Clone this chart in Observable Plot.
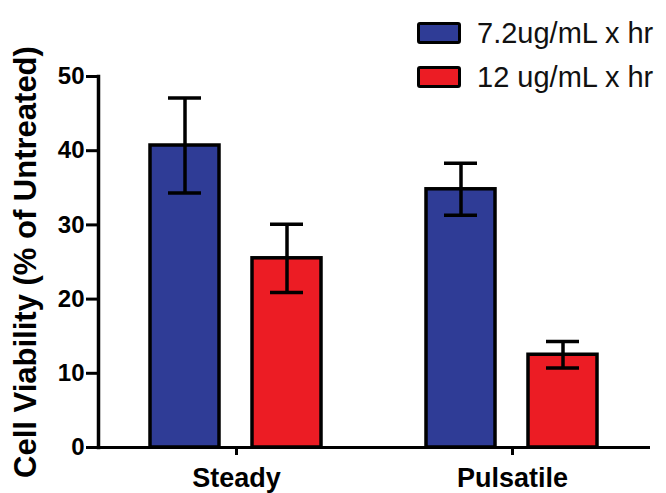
<!DOCTYPE html>
<html>
<head>
<meta charset="utf-8">
<script src="https://cdn.jsdelivr.net/npm/d3@7"></script>
<script src="https://cdn.jsdelivr.net/npm/@observablehq/plot@0.6"></script>
<style>
  html, body { margin: 0; padding: 0; background: #fff; }
  #wrap { position: relative; width: 666px; height: 493px; font-family: "Liberation Sans", Arial, sans-serif; }
  #legend { position: absolute; left: 417px; top: 11px; }
  .item { display: flex; align-items: center; height: 44px; }
  .sw { width: 38px; height: 16px; border: 3.5px solid #000; border-radius: 3px; margin-right: 16px; }
  .lab { font-size: 29px; color: #111; line-height: 1; }
</style>
</head>
<body>
<div id="wrap"><div id="legend"></div></div>
<script>
const categories = ["Steady", "Pulsatile"];
const doses = ["7.2ug/mL x hr", "12 ug/mL x hr"];
const means72 = [40.7, 34.8];
const errs72 = [6.4, 3.5];
const means12 = [25.5, 12.5];
const errs12 = [4.6, 1.8];
const colors = ["#2f3c96", "#ec1c24"];
const yTicks = [0, 10, 20, 30, 40, 50];
const yLabel = "Cell Viability (% of Untreated)";

const data = [];
categories.forEach((c, i) => {
  data.push({cond: c, dose: doses[0], mean: means72[i], lo: means72[i] - errs72[i], hi: means72[i] + errs72[i]});
  data.push({cond: c, dose: doses[1], mean: means12[i], lo: means12[i] - errs12[i], hi: means12[i] + errs12[i]});
});

const chart = Plot.plot({
  width: 666,
  height: 493,
  marginLeft: 97,
  marginRight: 16,
  marginTop: 76,
  marginBottom: 46,
  style: {fontFamily: "'Liberation Sans', Arial, sans-serif", background: "#fff", color: "#000"},
  fx: {domain: categories, padding: 0, label: null, axis: null},
  x: {domain: doses, paddingInner: 0.32, paddingOuter: 0.5, axis: null},
  y: {domain: [0, 50], axis: null},
  color: {domain: doses, range: colors},
  marks: [
    Plot.barY(data, {fx: "cond", x: "dose", y: "mean", fill: "dose", stroke: "#000", strokeWidth: 3.5}),
    Plot.ruleX(data, {fx: "cond", x: "dose", y1: "lo", y2: "hi", stroke: "#000", strokeWidth: 3.5}),
    Plot.tickY(data, {fx: "cond", x: "dose", y: "hi", insetLeft: 18, insetRight: 18, stroke: "#000", strokeWidth: 3.5}),
    Plot.tickY(data, {fx: "cond", x: "dose", y: "lo", insetLeft: 18, insetRight: 18, stroke: "#000", strokeWidth: 3.5}),
    Plot.ruleY([0], {stroke: "#000", strokeWidth: 3}),
    Plot.frame({anchor: "left", facetAnchor: "left", stroke: "#000", strokeWidth: 3.5}),
    Plot.axisY({
      ticks: yTicks, tickSize: 12, tickPadding: 2, fontSize: 24, fontWeight: "bold",
      strokeWidth: 3, label: null
    }),
    Plot.text([yLabel], {
      fx: () => categories[0], text: (d) => d, frameAnchor: "left", textAnchor: "middle", rotate: -90,
      dx: -72, fontSize: 31, fontWeight: "bold", fill: "#000"
    }),
    Plot.axisFx({anchor: "bottom", tickSize: 8, tickPadding: 12, fontSize: 27, fontWeight: "bold", strokeWidth: 3, label: null})
  ]
});
document.getElementById("wrap").prepend(chart);

const legend = document.getElementById("legend");
doses.forEach((d, i) => {
  const item = document.createElement("div");
  item.className = "item";
  const sw = document.createElement("div");
  sw.className = "sw";
  sw.style.background = colors[i];
  const lab = document.createElement("span");
  lab.className = "lab";
  lab.textContent = d;
  item.append(sw, lab);
  legend.append(item);
});
</script>
</body>
</html>
